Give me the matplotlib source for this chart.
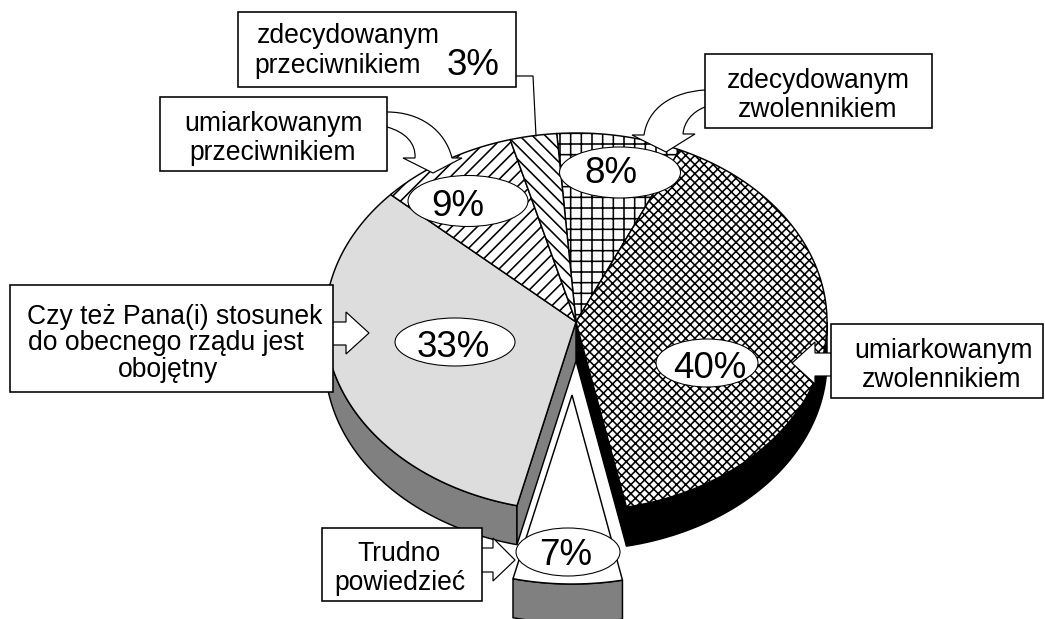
import numpy as np
import matplotlib
matplotlib.use("Agg")
import matplotlib.pyplot as plt
from matplotlib.patches import Polygon, Ellipse, Rectangle, PathPatch
from matplotlib.path import Path

plt.rcParams["font.family"] = ["Liberation Sans", "DejaVu Sans"]
plt.rcParams["hatch.linewidth"] = 0.6

# ---------------------------
# DATA
# ---------------------------
names = ["zdecydowanym zwolennikiem", "umiarkowanym zwolennikiem", "Trudno powiedzieć",
         "obojętny", "umiarkowanym przeciwnikiem", "zdecydowanym przeciwnikiem"]
values = [8, 40, 7, 33, 9, 3]

# ---------------------------
# STYLE / LAYOUT (pixels)
# ---------------------------
DPI = 192  # hatch tile is one inch, this dpi gives the right line spacing
W, H = 1045, 619
CX, CY = 576, 322
RX, RY = 251, 189
DEPTH = 39
START = -4.4  # degrees clockwise from the top

top_fill = ["white", "white", "white", "#dddddd", "white", "white"]
side_fill = [None, "black", "#808080", "#808080", None, None]
hatches = ["+" * 3, "x" * 7, None, None, "/" * 5, "\\" * 5]
offsets = [(0, 0), (0, 0), (-4, 73), (0, 0), (0, 0), (0, 0)]
ell_pos = [(620, 172.5, 60.5, 25.5), (707, 363, 51, 24), (568, 552, 52, 24),
           (455, 342, 60, 24), (468, 201, 60, 25.5), None]
pct_pos = [(611, 183), (710, 378), (566, 565), (453, 357), (457.5, 216), (473, 75)]

boxes = [
    (238, 12, 516, 87, [("zdecydowanym", 348, 43), ("przeciwnikiem", 338, 73)]),
    (160, 97, 387, 171, [("umiarkowanym", 273, 131), ("przeciwnikiem", 273, 160)]),
    (705, 54, 932, 128, [("zdecydowanym", 818, 88), ("zwolennikiem", 818, 117)]),
    (10, 285, 333, 392, [("Czy też Pana(i) stosunek", 175, 324),
                         ("do obecnego rządu jest", 166, 350), ("obojętny", 168, 377)]),
    (831, 324, 1043, 398, [("umiarkowanym", 943, 358), ("zwolennikiem", 942, 387)]),
    (322, 528, 482, 601, [("Trudno", 399, 561), ("powiedzieć", 399.5, 590)]),
]


def arc(t1, t2, dx=0, dy=0):
    t = np.radians(np.linspace(t1, t2, max(int(abs(t2 - t1)) * 2, 2)))
    return np.column_stack([CX + dx + RX * np.sin(t), CY + dy - RY * np.cos(t)])


fig = plt.figure(figsize=((W + 0.01) / DPI, (H + 0.01) / DPI), dpi=DPI)
ax = fig.add_axes([0, 0, 1, 1])
ax.set_xlim(0, W)
ax.set_ylim(H, 0)
ax.axis("off")

# ---------------------------
# PIE
# ---------------------------
edges = START + np.cumsum([0] + values) * 3.6
down = np.array([0, DEPTH])

for i, v in enumerate(values):
    if side_fill[i] is None:
        continue
    t1, t2 = edges[i], edges[i + 1]
    dx, dy = offsets[i]
    # outer wall, only the part that faces the viewer (90..270 deg)
    a, b = max(t1, 90), min(t2, 270)
    if b > a:
        pts = arc(a, b, dx, dy)
        ax.add_patch(Polygon(np.vstack([pts, pts[::-1] + down]), fc=side_fill[i],
                             ec="black", lw=0.55, zorder=2))
    # cut faces next to the pulled out slice
    apex = np.array([CX + dx, CY + dy])
    if i == 1:
        p = arc(t2, t2)[0]
        ax.add_patch(Polygon([apex, p, p + down, apex + down], fc=side_fill[i],
                             ec="black", lw=0.55, zorder=2))
    if i == 3:
        p = arc(t1, t1)[0]
        ax.add_patch(Polygon([apex, p, p + down, apex + down], fc=side_fill[i],
                             ec="black", lw=0.55, zorder=2))

for i, v in enumerate(values):
    dx, dy = offsets[i]
    pts = np.vstack([[CX + dx, CY + dy], arc(edges[i], edges[i + 1], dx, dy)])
    ax.add_patch(Polygon(pts, fc=top_fill[i], ec="black", lw=0.55,
                         hatch=hatches[i], zorder=3))
    if ell_pos[i] is not None:
        ex, ey, erx, ery = ell_pos[i]
        ax.add_patch(Ellipse((ex, ey), 2 * erx, 2 * ery, fc="white", ec="black",
                             lw=0.4, zorder=6))

# ---------------------------
# CALLOUT ARROWS
# ---------------------------
block_arrows = [
    [(333, 322), (346, 322), (346, 312), (369, 333), (346, 354), (346, 345), (333, 345)],
    [(831, 353), (815, 353), (815, 342), (792, 363), (815, 384), (815, 376), (831, 376)],
    [(482, 548), (493, 548), (493, 538), (515, 560), (493, 581), (493, 572), (482, 572)],
]
for arr in block_arrows:
    ax.add_patch(Polygon(arr, closed=False, fc="white", ec="black", lw=0.45, zorder=5))

# curved arrows: outer curve, barb, tip, barb, inner curve
curved = [
    [(Path.MOVETO, (387, 112)), (Path.CURVE4, (420, 112)), (Path.CURVE4, (445, 130)), (Path.CURVE4, (452, 158)),
     (Path.LINETO, (462, 158)), (Path.LINETO, (433, 173)), (Path.LINETO, (403, 158)), (Path.LINETO, (415, 158)),
     (Path.CURVE4, (416, 143)), (Path.CURVE4, (405, 132)), (Path.CURVE4, (387, 127))],
    [(Path.MOVETO, (705, 90)), (Path.CURVE4, (672, 92)), (Path.CURVE4, (648, 108)), (Path.CURVE4, (644, 135)),
     (Path.LINETO, (632, 135)), (Path.LINETO, (666, 152)), (Path.LINETO, (695, 134)), (Path.LINETO, (683, 134)),
     (Path.CURVE4, (684, 122)), (Path.CURVE4, (692, 112)), (Path.CURVE4, (705, 107))],
]
for c in curved:
    codes, verts = zip(*c)
    ax.add_patch(PathPatch(Path(verts, codes), fc="white", ec="black", lw=0.45, zorder=5))

# leader of the 3% box
ax.plot([516, 533, 536], [76, 76, 136], color="black", lw=0.45, zorder=5)

# ---------------------------
# BOXES AND TEXT
# ---------------------------
for x0, y0, x1, y1, lines in boxes:
    ax.add_patch(Rectangle((x0, y0), x1 - x0, y1 - y0, fc="white", ec="black",
                           lw=0.6, zorder=7))
    for txt, tx, ty in lines:
        ax.text(tx, ty, txt, ha="center", va="baseline", fontsize=9.95, color="black", zorder=8)

for v, (tx, ty) in zip(values, pct_pos):
    ax.text(tx, ty, f"{v}%", ha="center", va="baseline", fontsize=13.8, color="black", zorder=8)

fig.savefig("out.png", dpi=DPI, facecolor="white")
plt.close(fig)
